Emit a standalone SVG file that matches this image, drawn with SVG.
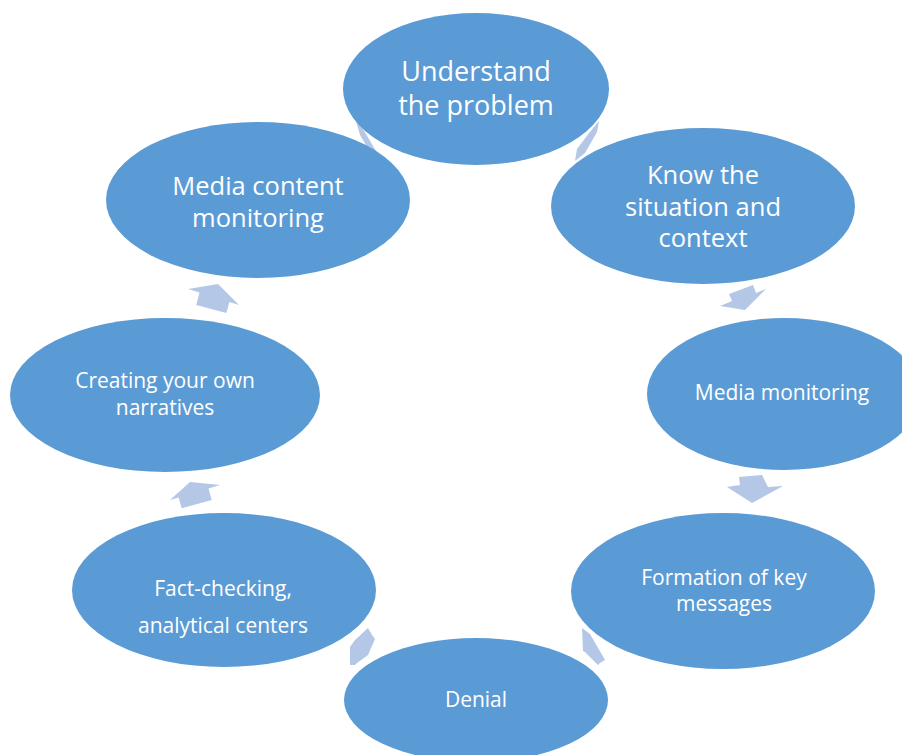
<svg xmlns="http://www.w3.org/2000/svg" width="902" height="755" viewBox="0 0 902 755">
<style>
.node{fill:#5b9bd5}
.arr{fill:#b4c7e7}
.t{fill:#ffffff;font-family:"Open Sans","Noto Sans",sans-serif;text-anchor:middle}
.big{font-size:27px}
.mid{font-size:25.5px}
.sm{font-size:21px}
</style>
<rect width="902" height="755" fill="#ffffff"/>
<g id="connectors">
<polygon class="arr" points="356,121 363,129 376,151 383,168 373,157 360,135"/>
<polygon class="arr" points="599,121 597,132 585,153 575,161 577,149 589,133"/>
<polygon class="arr" points="729,294 753,285 756,293 766,289 745,310 720,306 732,301"/>
<polygon class="arr" points="739,477 762,475 768,487 783,486 752,503 727,487 740,485"/>
<polygon class="arr" points="582,628 590,634 605,660 600,663 598,665 585,652 583,651"/>
<polygon class="arr" points="368,628 372,635 375,639 368,655 357,663 355,665 350,665 350,647 355,640"/>
<polygon class="arr" points="190,482 220,485 208.5,488.5 211.7,500 181.7,508.3 178.6,497.4 170,500"/>
<polygon class="arr" points="218,284 188,289 199.5,292.5 196.3,305 226.3,313 229.4,302 239,305"/>
</g>
<g id="n1"><ellipse class="node" cx="476" cy="89" rx="133" ry="76"/>
<text class="t big" x="476" y="81">Understand</text><text class="t big" x="476" y="115">the problem</text></g>
<g id="n2"><ellipse class="node" cx="703" cy="206" rx="152" ry="78"/>
<text class="t mid" x="703" y="184">Know the</text><text class="t mid" x="703" y="216">situation and</text><text class="t mid" x="703" y="247">context</text></g>
<g id="n3"><ellipse class="node" cx="784" cy="394" rx="137" ry="76"/>
<text class="t sm" x="782" y="400">Media monitoring</text></g>
<g id="n4"><ellipse class="node" cx="723" cy="591" rx="152" ry="78"/>
<text class="t sm" x="724" y="585">Formation of key</text><text class="t sm" x="724" y="611">messages</text></g>
<g id="n5"><ellipse class="node" cx="476" cy="700" rx="132" ry="62"/>
<text class="t sm" x="476" y="707">Denial</text></g>
<g id="n6"><ellipse class="node" cx="224" cy="590" rx="152" ry="77"/>
<text class="t sm" x="223" y="596">Fact-checking,</text><text class="t sm" x="223" y="633">analytical centers</text></g>
<g id="n7"><ellipse class="node" cx="165" cy="395" rx="155" ry="77"/>
<text class="t sm" x="165" y="388">Creating your own</text><text class="t sm" x="165" y="415">narratives</text></g>
<g id="n8"><ellipse class="node" cx="258" cy="200" rx="152" ry="78"/>
<text class="t mid" x="258" y="195">Media content</text><text class="t mid" x="258" y="227">monitoring</text></g>
</svg>
